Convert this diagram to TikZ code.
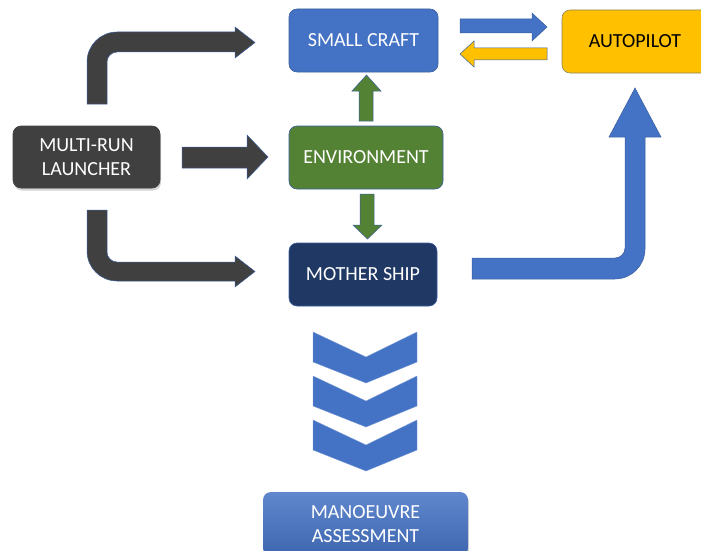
\documentclass[tikz,border=0pt]{standalone}
\usepackage{fontspec}
\setmainfont{Carlito}
\usetikzlibrary{shadows}
\definecolor{cblue}{HTML}{4472C4}
\definecolor{cyel}{HTML}{FFC000}
\definecolor{cgreen}{HTML}{548235}
\definecolor{cnavy}{HTML}{203864}
\definecolor{cdark}{HTML}{404040}
\definecolor{cedge}{HTML}{3A5F9E}
\tikzset{
  box/.style={rounded corners=8pt, draw=cedge, line width=0.6pt, text=white,
    font=\fontsize{20}{24}\selectfont, inner sep=0pt, align=center},
  blockarrow/.style={draw=cedge, line width=0.5pt},
}
\begin{document}
\begin{tikzpicture}[x=1pt,y=-1pt]
\useasboundingbox (0,0) rectangle (701,551);
\clip (0,0) rectangle (701,551);
% boxes
\node[box, fill=cblue, minimum width=149pt, minimum height=63pt] (craft) at (363.5,40.5) {SMALL CRAFT};
\fill[cyel, draw=cedge!60!cyel, line width=0.6pt] (720,10) -- (570,10) .. controls (565.6,10) and (562,13.6) .. (562,18)
  -- (562,65) .. controls (562,69.4) and (565.6,73) .. (570,73) -- (720,73);
\node[box, draw=none, text=black, minimum width=146pt, minimum height=63pt] (auto) at (635,41.5) {AUTOPILOT};
\node[box, fill=cgreen, minimum width=154pt, minimum height=63pt] (env) at (366,157.5) {ENVIRONMENT};
\node[box, fill=cnavy, minimum width=148pt, minimum height=63pt] (ship) at (363,274.5) {MOTHER SHIP};
\node[box, fill=cdark, draw=cdark, minimum width=147pt, minimum height=62pt,
  drop shadow={shadow xshift=1pt, shadow yshift=-2.5pt, opacity=0.35}] (launch) at (86.5,157) {MULTI-RUN\\LAUNCHER};
\node[box, top color=cblue!85!white, bottom color=cblue!90!black, draw=none, minimum width=205pt, minimum height=64pt,
  drop shadow={shadow xshift=1pt, shadow yshift=-2pt, opacity=0.3}] (assess) at (365.5,524) {MANOEUVRE\\ASSESSMENT};
% top-left bent arrow
\fill[cdark, blockarrow] (87,104) -- (87,62) .. controls (87,45.4) and (100.4,32) .. (117,32)
  -- (235,32) -- (235,27) -- (255,42.5) -- (235,58) -- (235,52) -- (117,52)
  .. controls (111.5,52) and (107,56.5) .. (107,62) -- (107,104) -- cycle;
% middle arrow
\fill[cdark, blockarrow] (182,147) -- (247,147) -- (247,135) -- (268,157) -- (247,179) -- (247,168) -- (182,168) -- cycle;
% bottom-left bent arrow
\fill[cdark, blockarrow] (87,210) -- (87,251) .. controls (87,267.6) and (100.4,281) .. (117,281)
  -- (235,281) -- (235,287) -- (255,271.5) -- (235,256) -- (235,262) -- (117,262)
  .. controls (111.5,262) and (107,257.5) .. (107,252) -- (107,210) -- cycle;
% craft <-> autopilot
\fill[cblue, blockarrow] (460,19) -- (532,19) -- (532,13) -- (547,27) -- (532,41) -- (532,33) -- (460,33) -- cycle;
\fill[cyel, blockarrow] (547,48) -- (474,48) -- (474,41) -- (460,54) -- (474,67) -- (474,60) -- (547,60) -- cycle;
% green arrows
\fill[cgreen, blockarrow] (359,121) -- (359,91) -- (352,91) -- (366.5,75) -- (381,91) -- (373,91) -- (373,121) -- cycle;
\fill[cgreen, blockarrow] (360,194) -- (360,225) -- (353,225) -- (367.5,239) -- (382,225) -- (374,225) -- (374,194) -- cycle;
% right bent arrow
\fill[cblue, blockarrow] (472,258) -- (615,258) .. controls (620.5,258) and (625,253.5) .. (625,248)
  -- (625,137) -- (609,137) -- (635,88) -- (661,137) -- (645,137) -- (645,249)
  .. controls (645,265.6) and (631.6,279) .. (615,279) -- (472,279) -- cycle;
% chevrons
\foreach \t in {332,376,420}{
  \fill[cblue, draw=cblue!70!white, line width=0.4pt] (313,\t) -- (366,\t+25) -- (417,\t) -- (417,\t+30) -- (366,\t+51) -- (313,\t+30) -- cycle;
}
\end{tikzpicture}
\end{document}
